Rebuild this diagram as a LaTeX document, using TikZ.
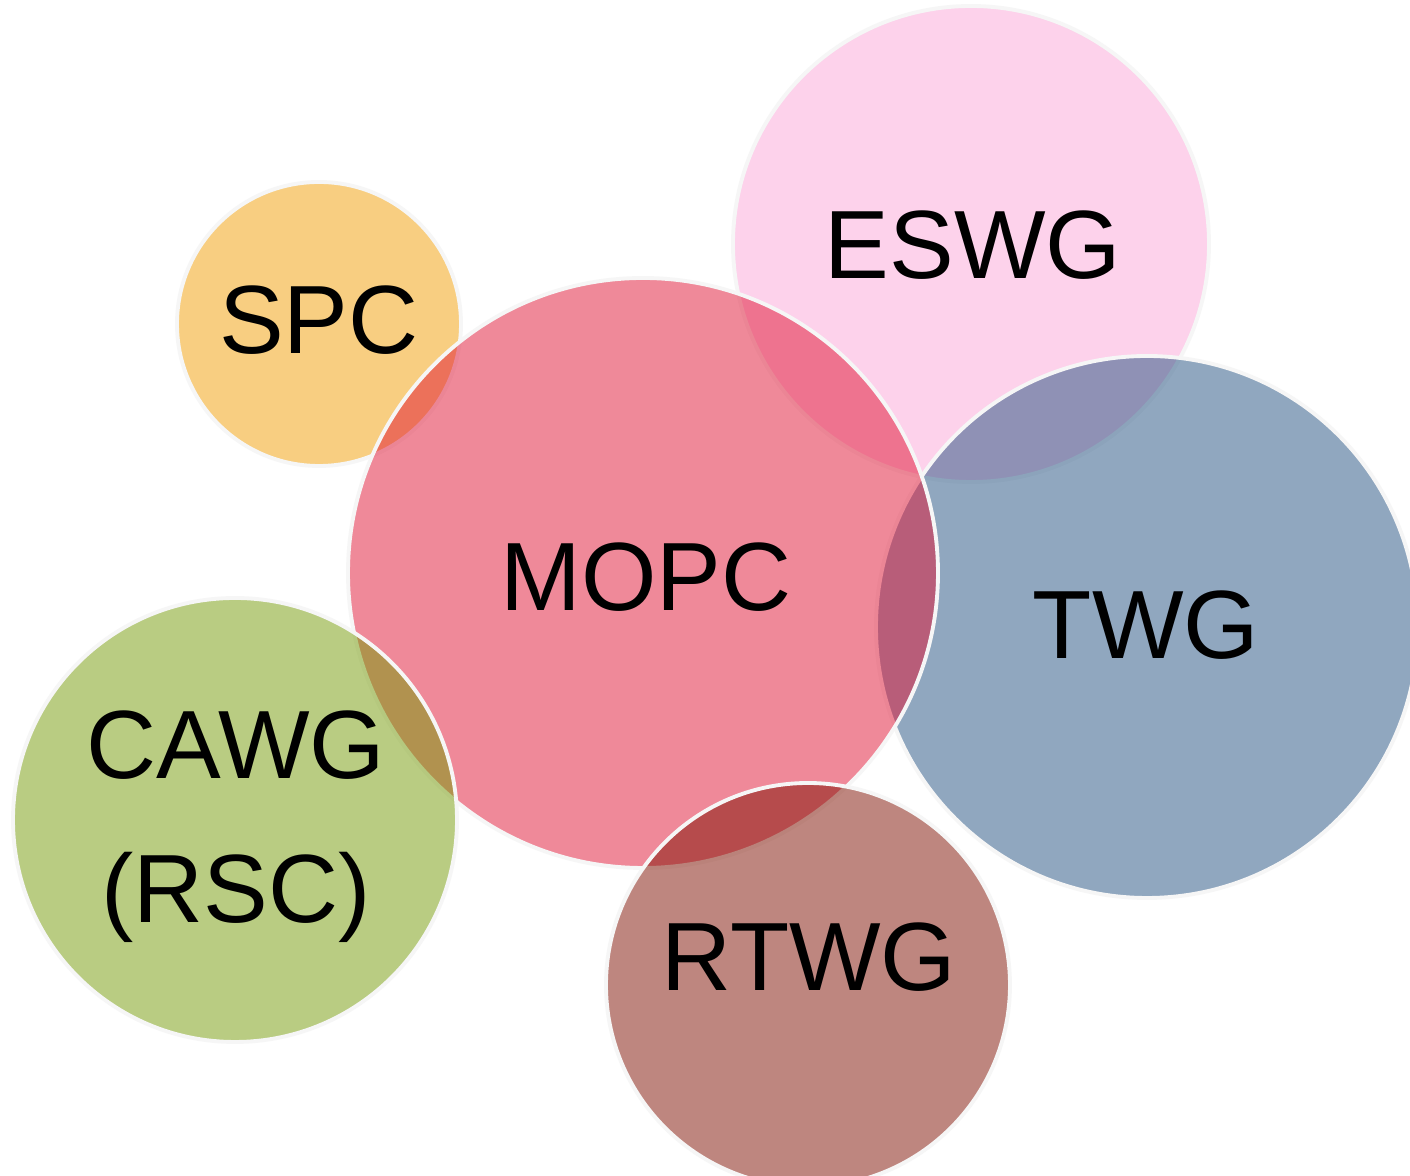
\documentclass[tikz,border=0pt]{standalone}
\usepackage{fontspec}
\setmainfont{Liberation Sans}
\definecolor{spccol}{RGB}{243,159,5}
\definecolor{eswgcol}{RGB}{253,167,217}
\definecolor{mopccol}{RGB}{225,21,53}
\definecolor{twgcol}{RGB}{35,81,129}
\definecolor{cawgcol}{RGB}{117,155,7}
\definecolor{rtwgcol}{RGB}{127,15,0}
\definecolor{rimcol}{RGB}{246,246,246}
\tikzset{
  bubble/.style={fill=#1,fill opacity=0.5,draw=rimcol,draw opacity=1,line width=1.1pt},
  lbl/.style={font=\fontsize{27.6}{41}\selectfont,align=center,inner sep=0pt}
}
\begin{document}
\begin{tikzpicture}
    \clip (0,0) rectangle (14.1,-11.76);
    \fill[white] (0,0) rectangle (14.1,-11.76);
    % bubbles, lowest first
    \coordinate (cspc) at (3.19,-3.24);
    \coordinate (ceswg) at (9.71,-2.44);
    \coordinate (ctwg) at (11.47,-6.27);
    \coordinate (cmopc) at (6.43,-5.73);
    \coordinate (ccawg) at (2.35,-8.20);
    \coordinate (crtwg) at (8.08,-9.85);
    \draw[bubble=spccol] (cspc) circle (1.42);
    \draw[bubble=eswgcol] (ceswg) circle (2.38);
    \draw[bubble=twgcol] (ctwg) circle (2.71);
    \draw[bubble=mopccol] (cmopc) circle (2.95);
    \draw[bubble=cawgcol] (ccawg) circle (2.22);
    \draw[bubble=rtwgcol] (crtwg) circle (2.02);
    % labels
    \node[lbl] (spc) at (3.19,-3.20) {SPC};
    \node[lbl] (eswg) at (9.73,-2.45) {ESWG};
    \node[lbl] (twg) at (11.46,-6.25) {TWG};
    \node[lbl] (cawg) at (2.36,-8.27) {CAWG\\(RSC)};
    \node[lbl] (mopc) at (6.46,-5.77) {MOPC};
    \node[lbl] (rtwg) at (8.09,-9.57) {RTWG};
\end{tikzpicture}
\end{document}
